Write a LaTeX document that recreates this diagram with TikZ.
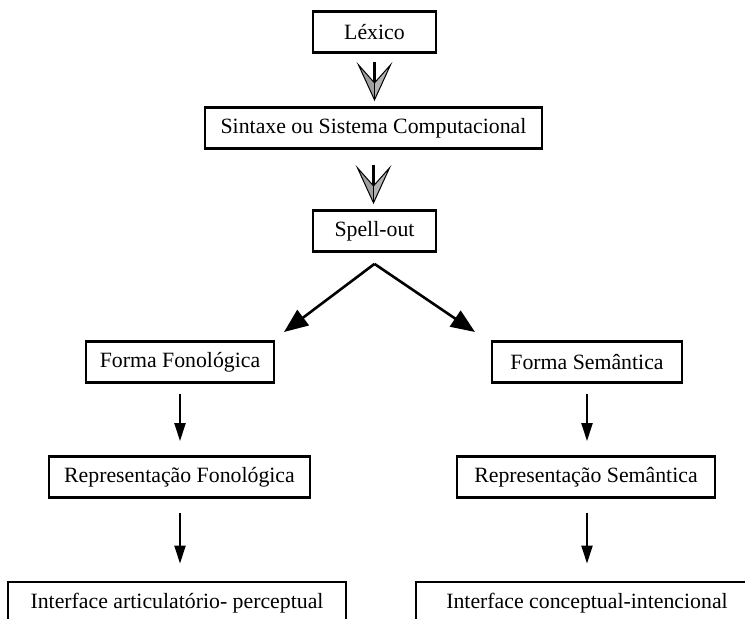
\documentclass[tikz,border=0pt]{standalone}
\usepackage{fontspec}
\setmainfont{Liberation Serif}
\usetikzlibrary{arrows.meta}
\begin{document}
\begin{tikzpicture}[x=1pt,y=-1pt,
  box/.style={draw=black,line width=2.8pt,fill=white,inner sep=0pt,
    minimum height=41pt,font=\fontsize{21.8}{24}\selectfont},
  split/.style={line width=2.6pt,-{Triangle[length=24pt,width=19pt]}},
  down/.style={line width=2.2pt,-{Triangle[length=18pt,width=11pt]}},
  grayhead/.pic={
    \draw[line width=3pt] (0,0) -- (0,21);
    \fill[gray!75] (-16,3) -- (0,21) -- (0,38) -- cycle;
    \fill[gray!140!black] (16,3) -- (0,21) -- (0,38) -- cycle;
    \draw[line width=1pt,line join=miter] (-16,3) -- (0,21) -- (16,3) -- (0,38) -- cycle;
    \draw[line width=0.6pt] (0,21) -- (0,38);
  }]
\useasboundingbox (0,0) rectangle (745,619);
\clip (0,0) rectangle (745,619);

% central chain
\node[box,minimum width=123pt] (lex) at (374.5,32) {Léxico};
\node[box,minimum width=337pt] (sint) at (373.5,128) {Sintaxe ou Sistema Computacional};
\node[box,minimum width=123pt] (spell) at (374.5,231) {Spell-out};

% the two branches
\node[box,minimum width=188pt] (ff) at (180,362) {Forma Fonológica};
\node[box,minimum width=190pt] (fs) at (587,362) {Forma Semântica};
\node[box,minimum width=261pt] (rf) at (179.5,477) {Representação Fonológica};
\node[box,minimum width=258pt] (rs) at (586,477) {Representação Semântica};
\node[box,minimum width=338pt,minimum height=42pt] (ia) at (177,603) {Interface articulatório- perceptual};
\node[box,minimum width=342pt,minimum height=42pt] (ic) at (587,603) {Interface conceptual-intencional};

% gray block arrows
\pic at ([yshift=-8pt]lex.south) {grayhead};
\pic at ([yshift=-15pt]sint.south) {grayhead};

% split below Spell-out
\coordinate (apex) at ([yshift=-11pt]spell.south);
\coordinate (ffend) at (284,332);
\coordinate (fsend) at (475,332);
\draw[split] (apex) -- (ffend);
\draw[split] (apex) -- (fsend);

% downward arrows
\draw[down] ([yshift=-10pt]ff.south) -- ([xshift=0.5pt,yshift=14pt]rf.north);
\draw[down] ([yshift=-10pt]fs.south) -- ([xshift=1pt,yshift=14pt]rs.north);
\draw[down] ([xshift=0.5pt,yshift=-14pt]rf.south) -- ([xshift=3pt,yshift=17pt]ia.north);
\draw[down] ([xshift=1pt,yshift=-14pt]rs.south) -- ([xshift=0pt,yshift=17pt]ic.north);
\end{tikzpicture}
\end{document}
